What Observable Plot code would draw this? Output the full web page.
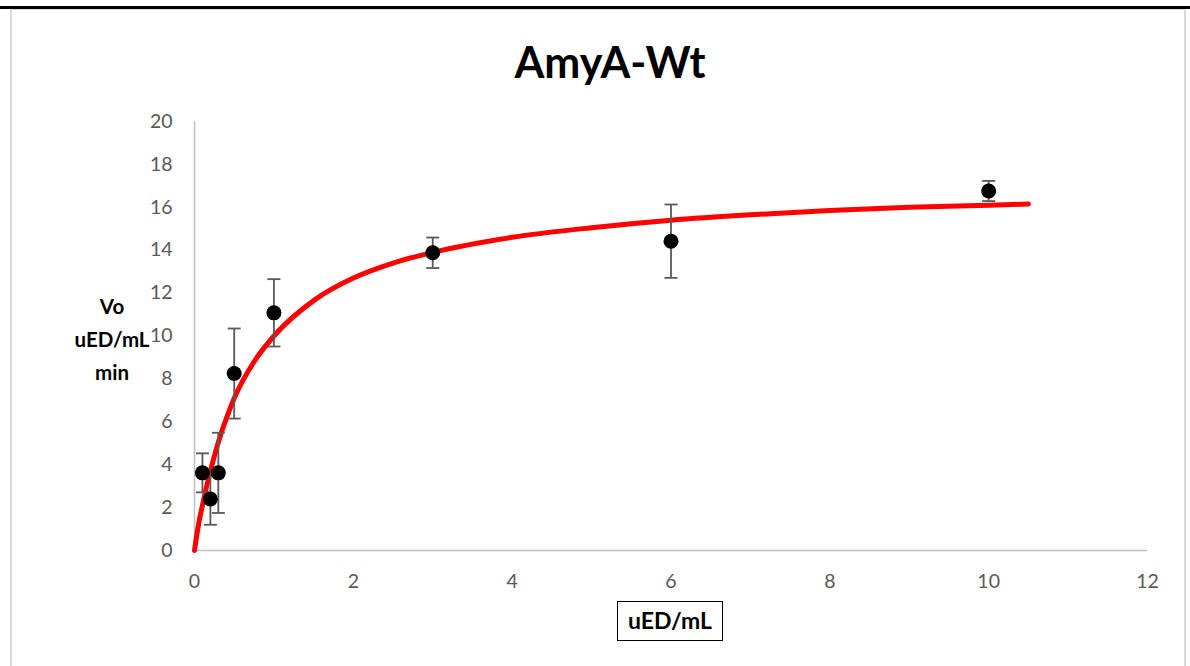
<!DOCTYPE html>
<html>
<head>
<meta charset="utf-8">
<script src="https://cdn.jsdelivr.net/npm/d3@7"></script>
<script src="https://cdn.jsdelivr.net/npm/@observablehq/plot@0.6"></script>
<style>
  html, body { margin: 0; padding: 0; background: #fff; }
  #wrap { position: relative; width: 1190px; height: 666px; overflow: hidden; font-family: Lato, "Open Sans", sans-serif; }
  #topline { position: absolute; left: 0; top: 6px; width: 1190px; height: 3px; background: #000; }
  #frame { position: absolute; left: 10px; top: 9px; width: 1176px; height: 700px; border: 1px solid #d9d9d9; border-width: 1px 2px 0 2px; box-sizing: border-box; }
  #title { position: absolute; left: 0; width: 1220px; top: 36px; text-align: center; font-weight: bold; font-size: 43px; color: #000; }
  #ylab { position: absolute; left: 52px; width: 120px; top: 290px; text-align: center; font-weight: bold; font-size: 20.5px; line-height: 33px; color: #000; }
  #xlab { position: absolute; left: 617px; top: 601px; width: 106px; height: 40px; border: 1.5px solid #000; box-sizing: border-box; text-align: center; font-weight: bold; font-size: 23px; line-height: 37px; color: #000; }
  #chart { position: absolute; left: 0; top: 0; }
</style>
</head>
<body>
<div id="wrap">
  <div id="chart"></div>
  <div id="topline"></div>
  <div id="frame"></div>
  <div id="title">AmyA-Wt</div>
  <div id="ylab">Vo<br>uED/mL<br>min</div>
  <div id="xlab">uED/mL</div>
</div>
<script>
// Measured points (substrate uED/mL vs initial velocity)
const substrate = [0.1, 0.2, 0.3, 0.5, 1, 3, 6, 10];
const velocity  = [3.62, 2.40, 3.62, 8.25, 11.08, 13.88, 14.42, 16.76];
const errorSize = [0.91, 1.2, 1.87, 2.1, 1.57, 0.71, 1.71, 0.47];

// Fitted curve
const fitX = [0, 0.03, 0.06, 0.1, 0.15, 0.2, 0.3, 0.4, 0.5, 0.75, 1, 1.5, 2, 2.5, 3, 4, 5, 6, 7, 8, 9, 10, 10.5];
const fitY = [0, 0.75, 1.4, 2.1, 2.95, 3.7, 5.05, 6.15, 7.1, 8.8, 10.0, 11.65, 12.7, 13.4, 13.9, 14.6, 15.05, 15.4, 15.65, 15.85, 16.0, 16.1, 16.15];

// Tick labels
const xTicks = [0, 2, 4, 6, 8, 10, 12];
const yTicks = [0, 2, 4, 6, 8, 10, 12, 14, 16, 18, 20];

const points = substrate.map((x, i) => ({x, y: velocity[i], lo: velocity[i] - errorSize[i], hi: velocity[i] + errorSize[i]}));
const fit = fitX.map((x, i) => ({x, y: fitY[i]}));

const capSymbol = {
  draw(context, size) {
    const r = Math.sqrt(size / Math.PI);
    context.moveTo(-r, 0);
    context.lineTo(r, 0);
  }
};

const chart = Plot.plot({
  width: 1190,
  height: 666,
  marginLeft: 194,
  marginRight: 43,
  marginTop: 121,
  marginBottom: 116,
  style: {fontFamily: "Lato, 'Open Sans', sans-serif", fontSize: "19.5px", color: "#595959", background: "transparent"},
  x: {domain: [0, 12], ticks: xTicks, tickSize: 0, tickPadding: 24, label: null},
  y: {domain: [0, 20], ticks: yTicks, tickSize: 0, tickPadding: 22, label: null},
  marks: [
    Plot.ruleY([0], {stroke: "#bfbfbf", strokeWidth: 1.5}),
    Plot.ruleX([0], {stroke: "#bfbfbf", strokeWidth: 1.5}),
    Plot.line(fit, {x: "x", y: "y", stroke: "#ff0000", strokeWidth: 5, curve: "monotone-x", strokeLinecap: "round"}),
    Plot.ruleX(points, {x: "x", y1: "lo", y2: "hi", stroke: "#595959", strokeWidth: 1.8}),
    Plot.dot(points, {x: "x", y: "lo", symbol: capSymbol, r: 6.5, stroke: "#595959", strokeWidth: 1.8, fill: "none"}),
    Plot.dot(points, {x: "x", y: "hi", symbol: capSymbol, r: 6.5, stroke: "#595959", strokeWidth: 1.8, fill: "none"}),
    Plot.dot(points, {x: "x", y: "y", r: 7.5, fill: "#000", stroke: "none"})
  ]
});
document.getElementById("chart").appendChild(chart);
</script>
</body>
</html>
